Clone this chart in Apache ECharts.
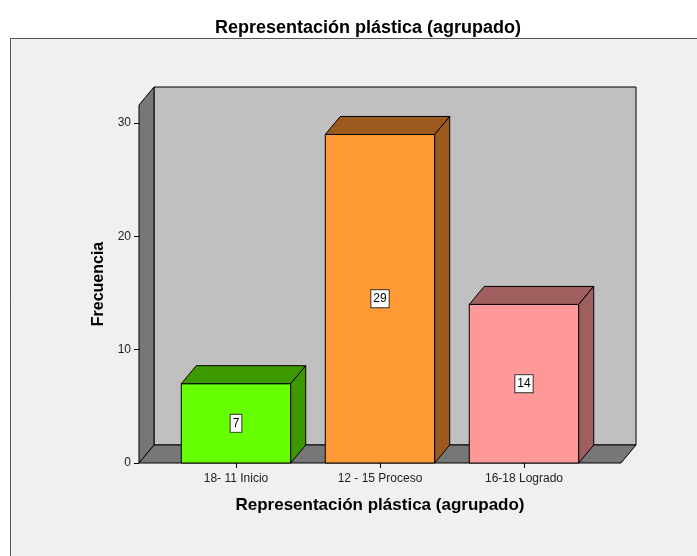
<!DOCTYPE html>
<html>
<head>
<meta charset="utf-8">
<script src="https://cdn.jsdelivr.net/npm/echarts@6/dist/echarts.min.js"></script>
<style>
  * { margin: 0; padding: 0; }
  body { background: #ffffff; }
  #chart { width: 697px; height: 556px; }
</style>
</head>
<body>
<div id="chart"></div>
<script>
  // datos del gráfico
  var categories = ['18- 11 Inicio', '12 - 15 Proceso', '16-18 Logrado'];
  var frecuencia = [7, 29, 14];
  var yTicks = [0, 10, 20, 30];
  var yMax = 31.6;

  // colores: cara frontal / caras laterales
  var frontColors = ['#66ff00', '#ff9933', '#ff9999'];
  var sideColors = ['#3d9900', '#9c5a1f', '#a05f5f'];

  var depthX = 15, depthY = 18;   // profundidad 3D
  var wallMargin = 25;             // margen del suelo a cada lado
  var font = 'Liberation Sans, Arial, sans-serif';

  function poly(points, fill) {
    return {
      type: 'polygon',
      shape: { points: points },
      style: { fill: fill, stroke: '#000', lineWidth: 1 }
    };
  }

  // paredes y suelo
  function renderWalls(params, api) {
    var band = api.size([1, 0])[0];
    var x0 = api.coord([0, 0])[0] - band / 2 - wallMargin;
    var x1 = api.coord([categories.length - 1, 0])[0] + band / 2 + wallMargin;
    var yb = api.coord([0, 0])[1];
    var yt = api.coord([0, yMax])[1];
    return {
      type: 'group',
      children: [
        poly([[x0 + depthX, yt - depthY], [x1 + depthX, yt - depthY], [x1 + depthX, yb - depthY], [x0 + depthX, yb - depthY]], '#c0c0c0'),
        poly([[x0, yb], [x0, yt], [x0 + depthX, yt - depthY], [x0 + depthX, yb - depthY]], '#777777'),
        poly([[x0, yb], [x0 + depthX, yb - depthY], [x1 + depthX, yb - depthY], [x1, yb]], '#777777')
      ]
    };
  }

  // barras 3D
  function renderBar(params, api) {
    var i = params.dataIndex;
    var top = api.coord([api.value(0), api.value(1)]);
    var base = api.coord([api.value(0), 0]);
    var bw = api.size([1, 0])[0] * 0.76;
    var l = top[0] - bw / 2, r = top[0] + bw / 2;
    var t = top[1], b = base[1];
    return {
      type: 'group',
      children: [
        poly([[l, b], [l, t], [r, t], [r, b]], frontColors[i]),
        poly([[l, t], [l + depthX, t - depthY], [r + depthX, t - depthY], [r, t]], sideColors[i]),
        poly([[r, t], [r + depthX, t - depthY], [r + depthX, b - depthY], [r, b]], sideColors[i]),
        {
          type: 'text',
          x: top[0],
          y: (t + b) / 2,
          style: {
            text: String(api.value(1)),
            align: 'center',
            verticalAlign: 'middle',
            font: '12px ' + font,
            fill: '#000',
            backgroundColor: '#fff',
            borderColor: '#333',
            borderWidth: 1,
            padding: [3, 2, 2, 2]
          }
        }
      ]
    };
  }

  var myChart = echarts.init(document.getElementById('chart'));
  var option = {
    animation: false,
    graphic: [{
      type: 'rect',
      z: -10,
      shape: { x: 10.5, y: 38.5, width: 700, height: 540 },
      style: { fill: '#f0f0f0', stroke: '#555', lineWidth: 1 }
    }],
    title: {
      text: 'Representación plástica (agrupado)',
      left: 363,
      top: 14,
      textAlign: 'center',
      textStyle: { fontFamily: font, fontSize: 18, fontWeight: 'bold', color: '#000' }
    },
    grid: { left: 164, right: 101, top: 105, bottom: 93 },
    xAxis: {
      type: 'category',
      data: categories,
      name: 'Representación plástica (agrupado)',
      nameLocation: 'middle',
      nameGap: 34,
      nameTextStyle: { fontFamily: font, fontSize: 17, fontWeight: 'bold', color: '#000' },
      axisLine: { show: false },
      axisTick: { show: true, alignWithLabel: true, length: 5, lineStyle: { color: '#000' } },
      axisLabel: { fontFamily: font, fontSize: 12, color: '#222', margin: 10 },
      splitLine: { show: false }
    },
    yAxis: {
      type: 'value',
      min: 0,
      max: yMax,
      interval: 10,
      offset: wallMargin,
      name: 'Frecuencia',
      nameLocation: 'middle',
      nameGap: 29,
      nameTextStyle: { fontFamily: font, fontSize: 16, fontWeight: 'bold', color: '#000' },
      axisLine: { show: false },
      axisTick: { show: true, length: 5, customValues: yTicks, lineStyle: { color: '#000' } },
      axisLabel: {
        fontFamily: font, fontSize: 12, color: '#222', margin: 8,
        customValues: yTicks
      },
      splitLine: { show: false }
    },
    series: [
      {
        type: 'custom',
        renderItem: renderWalls,
        data: [[0, 0]],
        clip: false,
        z: 1,
        silent: true
      },
      {
        type: 'custom',
        renderItem: renderBar,
        data: frecuencia.map(function (v, i) { return [i, v]; }),
        clip: false,
        z: 3
      }
    ]
  };
  myChart.setOption(option);
</script>
</body>
</html>
